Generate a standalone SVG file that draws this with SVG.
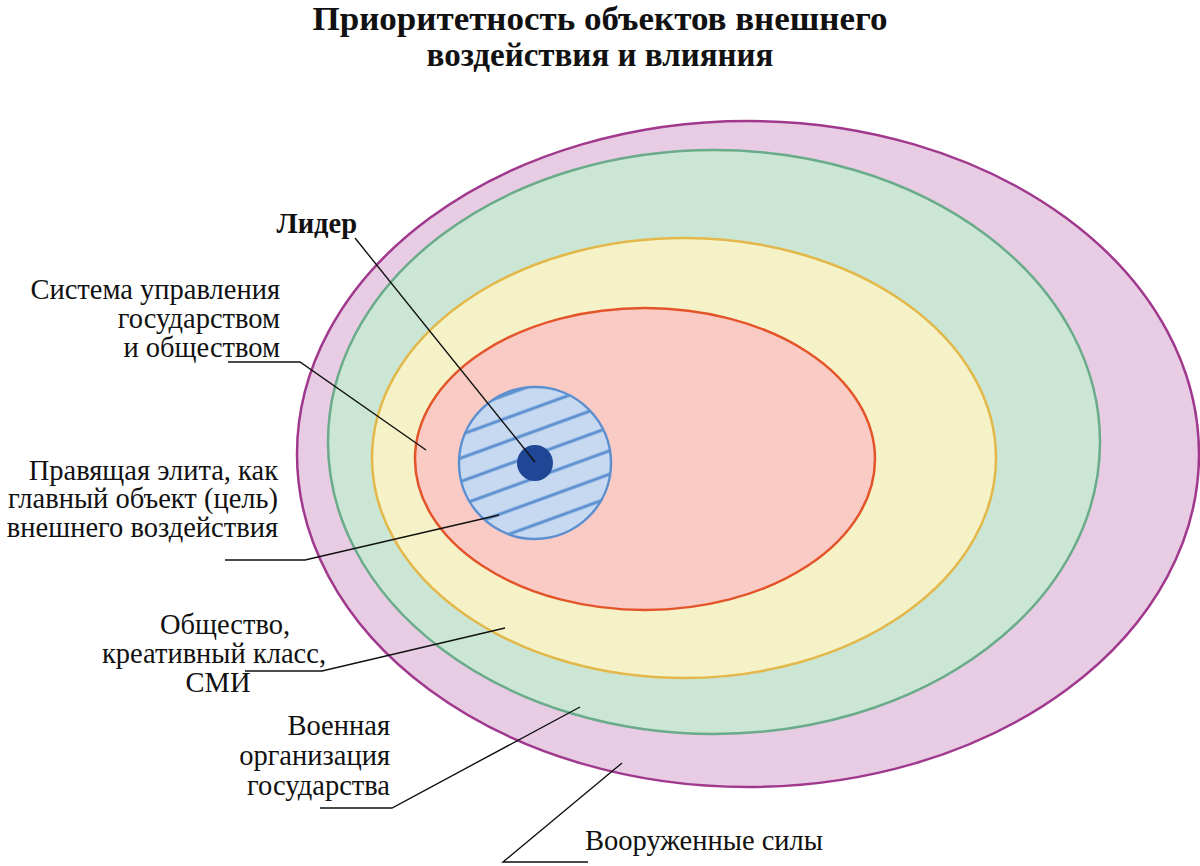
<svg xmlns="http://www.w3.org/2000/svg" width="1200" height="866" viewBox="0 0 1200 866">
<style>
text{font-family:"Liberation Serif","Times New Roman",serif;font-size:28.5px;fill:#111}
.t{font-weight:bold;font-size:33px}
.l{stroke:#111;stroke-width:1.4;fill:none}
</style>
<defs>
<pattern id="h" patternUnits="userSpaceOnUse" width="40" height="22" patternTransform="rotate(-20 535 463) translate(0 4)">
<rect width="40" height="22" fill="#c6d9f1"/>
<line x1="0" y1="11" x2="40" y2="11" stroke="#5b8fcf" stroke-width="2.8"/>
</pattern>
</defs>
<rect width="1200" height="866" fill="#fff"/>
<text class="t" x="600" y="30" text-anchor="middle" textLength="575" lengthAdjust="spacingAndGlyphs">Приоритетность объектов внешнего</text>
<text class="t" x="600" y="66" text-anchor="middle">воздействия и влияния</text>
<g id="n-armed"><ellipse cx="748" cy="454" rx="451" ry="333" fill="#e8cce4" stroke="#a0398e" stroke-width="2.5"/></g>
<g id="n-military"><ellipse cx="714" cy="442" rx="386" ry="292" fill="#cbe6d5" stroke="#6aab8a" stroke-width="2.5"/></g>
<g id="n-society"><ellipse cx="684" cy="458" rx="312" ry="220" fill="#f6f2c8" stroke="#e3b84a" stroke-width="2.5"/></g>
<g id="n-system"><ellipse cx="645" cy="459" rx="230" ry="151" fill="#f9cbc4" stroke="#e4542a" stroke-width="2.5"/></g>
<g id="n-elite"><circle cx="535" cy="463" r="76" fill="url(#h)" stroke="#5b8fcf" stroke-width="2.5"/></g>
<g id="n-leader"><circle cx="535" cy="463" r="18" fill="#1f4796"/></g>
<g id="connectors">
<polyline class="l" points="355,238 535,462"/>
<polyline class="l" points="228,362 300,362 426,450"/>
<polyline class="l" points="225,560 305,560 499,515"/>
<polyline class="l" points="245,671 322,671 505,628"/>
<polyline class="l" points="320,808 392,808 580,707"/>
<polyline class="l" points="588,862 503,862 622,763"/>
</g>
<g id="labels">
<text x="357" y="233" text-anchor="end" style="font-weight:bold">Лидер</text>
<text x="280" y="299" text-anchor="end">Система управления</text>
<text x="280" y="328" text-anchor="end">государством</text>
<text x="280" y="357" text-anchor="end">и обществом</text>
<text x="278" y="480" text-anchor="end">Правящая элита, как</text>
<text x="278" y="508" text-anchor="end">главный объект (цель)</text>
<text x="278" y="537" text-anchor="end">внешнего воздействия</text>
<text x="225" y="634" text-anchor="middle">Общество,</text>
<text x="214" y="663" text-anchor="middle">креативный класс,</text>
<text x="218" y="692" text-anchor="middle">СМИ</text>
<text x="390" y="735" text-anchor="end">Военная</text>
<text x="390" y="765" text-anchor="end">организация</text>
<text x="390" y="795" text-anchor="end">государства</text>
<text x="585" y="850">Вооруженные силы</text>
</g>
</svg>
